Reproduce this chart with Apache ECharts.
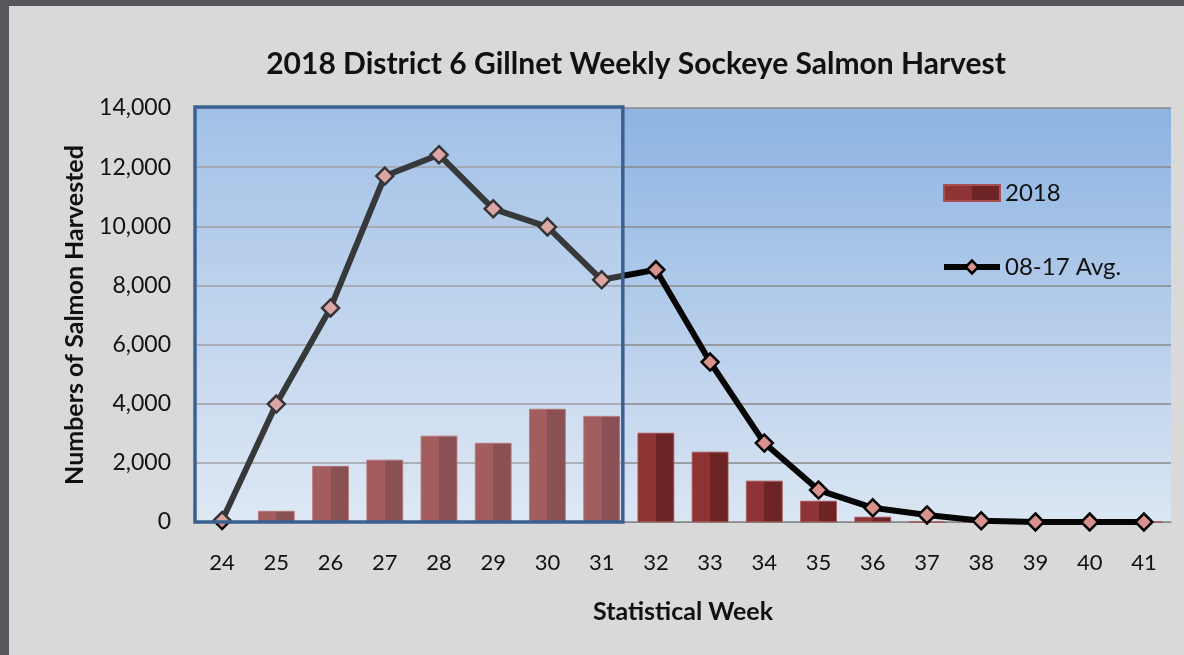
<!DOCTYPE html>
<html><head><meta charset="utf-8">
<script src="https://cdn.jsdelivr.net/npm/echarts@6/dist/echarts.min.js"></script>
<style>
html,body{margin:0;padding:0;background:#57565b;}
#wrap{position:absolute;left:9px;top:6px;width:1175px;height:649px;background:#d9d9d9;}
#c{position:absolute;left:-9px;top:-6px;width:1184px;height:655px;}
</style></head>
<body><div id="wrap"><div id="c"></div></div>
<script>
const weeks = ['24','25','26','27','28','29','30','31','32','33','34','35','36','37','38','39','40','41'];
const harvest2018 = [0,370,1890,2100,2910,2670,3820,3580,3010,2370,1390,710,170,0,0,0,0,0];
const avg0817 = [50,3990,7240,11700,12420,10590,9980,8190,8530,5410,2670,1080,480,240,40,0,0,0];
const yTicks = [0,2000,4000,6000,8000,10000,12000,14000];

const FONT = 'Lato, "Open Sans", sans-serif';
const chart = echarts.init(document.getElementById('c'));
const barColor = {type:'linear',x:0,y:0,x2:1,y2:0,colorStops:[
  {offset:0,color:'#8f3434'},{offset:0.5,color:'#8f3434'},{offset:0.5,color:'#6d2424'},{offset:1,color:'#6d2424'}]};
chart.setOption({
  backgroundColor:'transparent',
  animation:false,
  title:{text:'2018 District 6 Gillnet Weekly Sockeye Salmon Harvest',left:631,top:44,textAlign:'center',
    textStyle:{fontFamily:FONT,fontWeight:'bold',fontSize:30,color:'#111'}},
  grid:{left:195,right:13,top:108,bottom:133,show:true,borderWidth:0,
    backgroundColor:{type:'linear',x:0,y:0,x2:0,y2:1,colorStops:[{offset:0,color:'#8db3e2'},{offset:1,color:'#dbe6f3'}]}},
  legend:{orient:'vertical',left:936,top:176,itemGap:50,itemWidth:56,itemHeight:16,
    textStyle:{fontFamily:FONT,fontSize:24,color:'#111'},
    data:[{name:'2018',icon:'rect'},
          {name:'08-17 Avg.',lineStyle:{width:6,color:'#050505'},itemStyle:{borderWidth:2.5}}]},
  xAxis:{type:'category',data:weeks,name:'Statistical Week',nameLocation:'middle',nameGap:77,
    nameTextStyle:{fontFamily:FONT,fontWeight:'bold',fontSize:25,color:'#111'},
    axisLine:{lineStyle:{color:'#888',width:1}},axisTick:{show:false},
    axisLabel:{fontFamily:FONT,fontSize:22,color:'#111',margin:30}},
  yAxis:{type:'value',min:0,max:14000,interval:2000,name:'Numbers of Salmon Harvested',nameLocation:'middle',nameGap:108,
    nameTextStyle:{fontFamily:FONT,fontWeight:'bold',fontSize:25,color:'#111'},
    axisLine:{show:false},axisTick:{show:false},
    splitLine:{lineStyle:{color:'#8a8a8a',width:1.5}},
    axisLabel:{fontFamily:FONT,fontSize:23,color:'#111',margin:24,
      formatter:v=>yTicks.includes(v)?v.toLocaleString('en-US'):''}},
  series:[
    {name:'2018',type:'bar',data:harvest2018,barWidth:'67%',
      itemStyle:{color:barColor,borderColor:'#a85050',borderWidth:0.5}},
    {name:'08-17 Avg.',type:'line',data:avg0817,symbol:'diamond',symbolSize:17,z:5,
      lineStyle:{color:'#050505',width:6},
      itemStyle:{color:'#d8918c',borderColor:'#000',borderWidth:2.5}}
  ]
});
function drawBox(){
  const x31 = chart.convertToPixel({xAxisIndex:0},'31');
  const x32 = chart.convertToPixel({xAxisIndex:0},'32');
  const x24 = chart.convertToPixel({xAxisIndex:0},'24');
  const y0 = chart.convertToPixel({yAxisIndex:0},0);
  const yTop = chart.convertToPixel({yAxisIndex:0},14000);
  const band = x32-x31;
  const left = x24 - band/2;
  const right = x31 + band*0.39;
  chart.setOption({graphic:[{type:'rect',z:100,silent:true,
    shape:{x:left,y:yTop-1,width:right-left,height:y0-yTop+1},
    style:{fill:'rgba(235,242,252,0.22)',stroke:'#3b6192',lineWidth:3.5}}]});
}
drawBox();
</script></body></html>
